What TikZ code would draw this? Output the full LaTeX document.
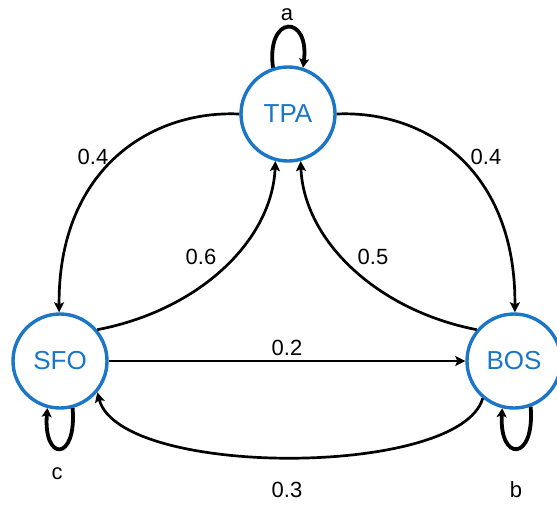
\documentclass[tikz,border=0pt]{standalone}
\usepackage{fontspec}
\setmainfont{Liberation Sans}
\usetikzlibrary{arrows.meta}
\definecolor{stateblue}{HTML}{1B76C8}
\begin{document}
\begin{tikzpicture}[x=1pt,y=-1pt,
  state/.style={circle,draw=stateblue,line width=3.4pt,fill=white,
    minimum size=94pt,inner sep=0pt,text=stateblue,font=\fontsize{26}{26}\selectfont},
  edge/.style={line width=2.7pt,-{Stealth[length=10pt,width=10pt,inset=2pt]}},
  selfloop/.style={line width=3.8pt,-{Stealth[length=9pt,width=10pt,inset=2pt]}},
  prob/.style={font=\fontsize{22}{22}\selectfont}]
\useasboundingbox (0,0) rectangle (557,504);

\node[state] (TPA) at (288,114) {TPA};
\node[state] (SFO) at (60,361) {SFO};
\node[state] (BOS) at (514,361) {BOS};

% transitions between states
\draw[edge] (TPA.180) .. controls (150,110) and (58,170) .. (SFO.91);
\draw[edge] (TPA.0) .. controls (426,110) and (516,170) .. (BOS.89);
\draw[edge] (SFO.40) .. controls (200,310) and (272,240) .. (TPA.-105);
\draw[edge] (BOS.140) .. controls (376,310) and (304,240) .. (TPA.-75);
\draw[edge] (SFO.east) -- (BOS.west);
\draw[edge] (BOS.230) .. controls (460,478) and (120,478) .. (SFO.-40);

% self transitions
\draw[selfloop] (TPA.108) .. controls (266,14) and (310,14) .. (TPA.72);
\draw[selfloop] (SFO.-75) .. controls (77,462) and (43,462) .. (SFO.-105);
\draw[selfloop] (BOS.-70) .. controls (535,462) and (499,462) .. (BOS.-104);

% labels
\node[prob] (la) at (287,15) {a};
\node[prob] (lc) at (57,474) {c};
\node[prob] (lb) at (516,490) {b};
\node[prob] (p1) at (93,157) {0.4};
\node[prob] (p2) at (486,157) {0.4};
\node[prob] (p3) at (201,257) {0.6};
\node[prob] (p4) at (373,257) {0.5};
\node[prob] (p5) at (287,348) {0.2};
\node[prob] (p6) at (287,490) {0.3};
\end{tikzpicture}
\end{document}
